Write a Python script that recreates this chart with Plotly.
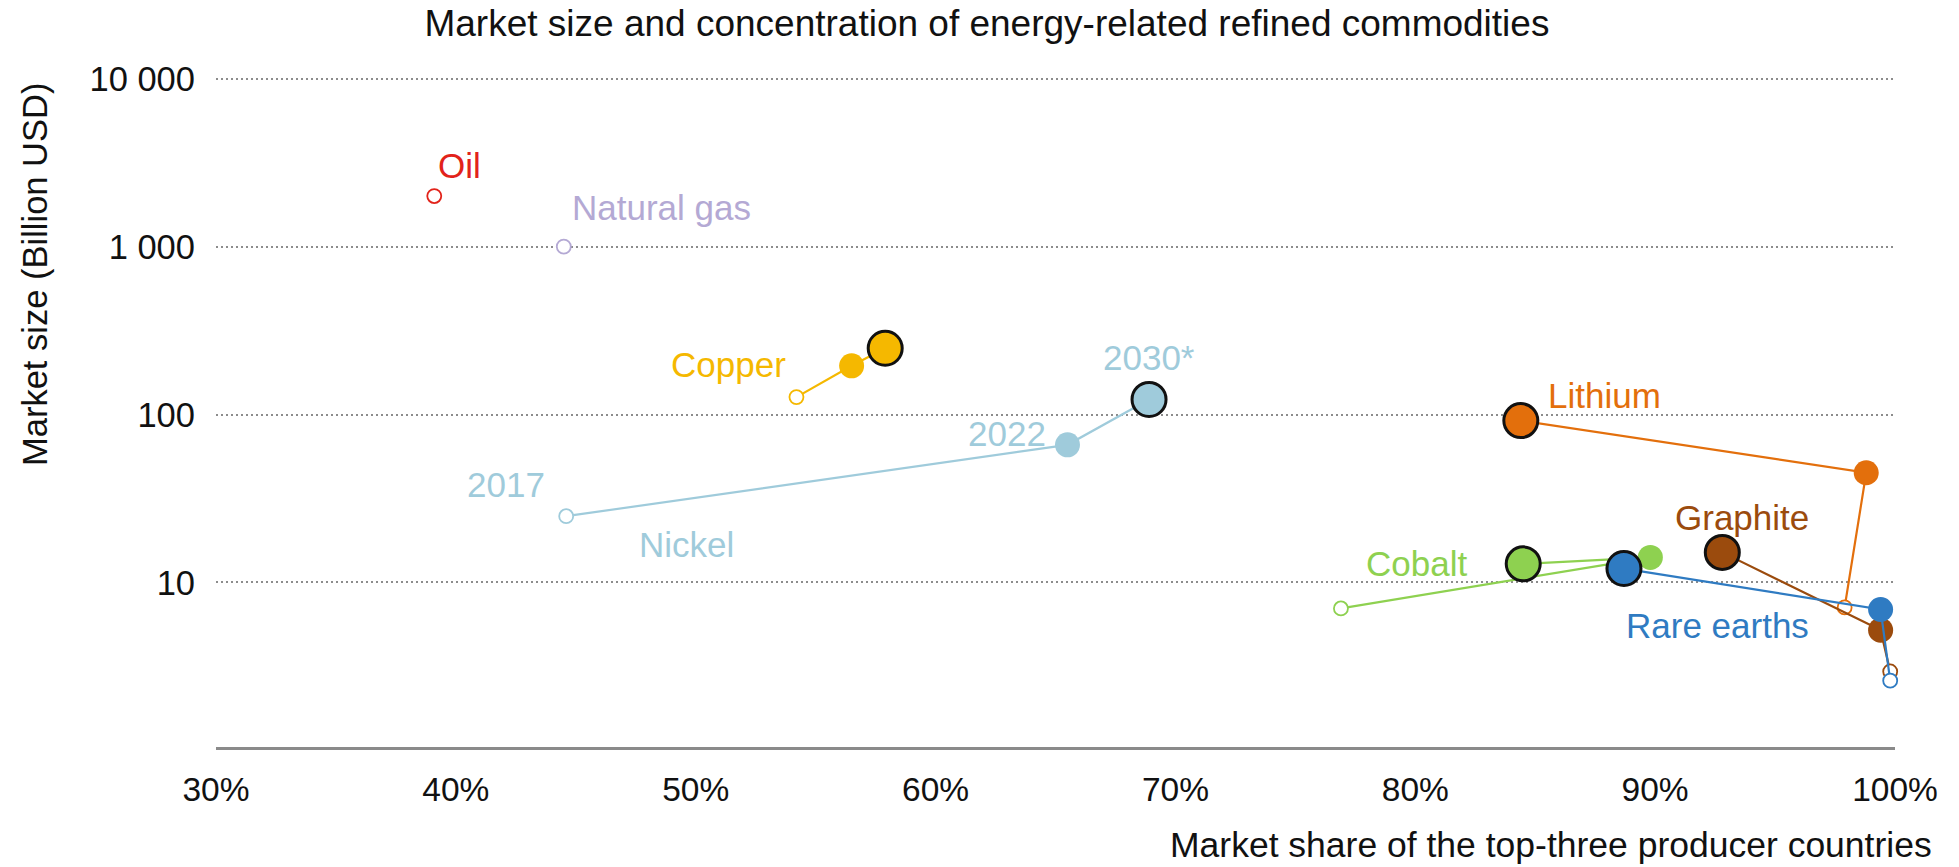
import math
import plotly.graph_objects as go

# ---------------- data ----------------
commodities = ["Oil", "Natural gas", "Copper", "Nickel", "Lithium", "Cobalt", "Rare earths", "Graphite"]
# market share of top-three producers (%) and market size (billion USD)
share_2017 = [39.1, 44.5, 54.2, 44.6, 97.9, 76.9, 99.8, 99.8]
size_2017 = [2000, 1000, 127, 24.8, 7.1, 7.0, 2.6, 2.95]
share_2022 = [None, None, 56.5, 65.5, 98.8, 89.8, 99.4, 99.4]
size_2022 = [None, None, 195, 66, 45, 14.1, 6.9, 5.2]
share_2030 = [None, None, 57.9, 68.9, 84.4, 84.5, 88.7, 92.8]
size_2030 = [None, None, 248, 123, 92, 12.9, 12.1, 15.1]

x_ticks = [30, 40, 50, 60, 70, 80, 90, 100]
x_ticktext = ["30%", "40%", "50%", "60%", "70%", "80%", "90%", "100%"]
y_ticks = [10, 100, 1000, 10000]
y_ticktext = ["10", "100", "1 000", "10 000"]

colors = {
    "Oil": "#e2231a",
    "Natural gas": "#b4a9d4",
    "Copper": "#f5b800",
    "Nickel": "#9fcbdb",
    "Lithium": "#e36f0c",
    "Cobalt": "#8ed150",
    "Rare earths": "#2f7bc2",
    "Graphite": "#9b4b0d",
}

FONT = "Liberation Sans, Arial, Helvetica, sans-serif"
FS = 35

fig = go.Figure()

draw_order = ["Oil", "Natural gas", "Copper", "Nickel", "Lithium", "Cobalt", "Graphite", "Rare earths"]
for name in draw_order:
    i = commodities.index(name)
    c = colors[name]
    xs = [share_2017[i], share_2022[i], share_2030[i]]
    ys = [size_2017[i], size_2022[i], size_2030[i]]
    px = [v for v in xs if v is not None]
    py = [v for v in ys if v is not None]
    if len(px) > 1:
        fig.add_trace(go.Scatter(x=px, y=py, mode="lines", line=dict(color=c, width=2.2),
                                 showlegend=False, hoverinfo="skip", cliponaxis=False))
    # 2017 open marker
    fig.add_trace(go.Scatter(x=[share_2017[i]], y=[size_2017[i]], mode="markers",
                             marker=dict(size=14, color="white", line=dict(color=c, width=1.8)),
                             showlegend=False, name=name + " 2017", cliponaxis=False))
    if share_2022[i] is not None:
        fig.add_trace(go.Scatter(x=[share_2022[i]], y=[size_2022[i]], mode="markers",
                                 marker=dict(size=25, color=c, line=dict(width=0)),
                                 showlegend=False, name=name + " 2022", cliponaxis=False))
    if share_2030[i] is not None:
        fig.add_trace(go.Scatter(x=[share_2030[i]], y=[size_2030[i]], mode="markers",
                                 marker=dict(size=34, color=c, line=dict(color="#111111", width=3)),
                                 showlegend=False, name=name + " 2030", cliponaxis=False))

# ---------------- labels (anchored on data points) ----------------
labels = [
    # text, commodity, year, xanchor, xshift, yshift
    ("Oil", "Oil", 2017, "left", 2, 31),
    ("Natural gas", "Natural gas", 2017, "left", 6, 39),
    ("Copper", "Copper", 2017, "right", -8, 33),
    ("2030*", "Nickel", 2030, "center", 0, 42),
    ("2022", "Nickel", 2022, "right", -19, 11),
    ("2017", "Nickel", 2017, "right", -19, 32),
    ("Nickel", "Nickel", 2017, "left", 71, -28),
    ("Lithium", "Lithium", 2030, "left", 25, 25),
    ("Graphite", "Graphite", 2030, "center", 20, 35),
    ("Cobalt", "Cobalt", 2030, "right", -54, 0),
    ("Rare earths", "Rare earths", 2030, "left", 0, -57),
]
year_x = {2017: share_2017, 2022: share_2022, 2030: share_2030}
year_y = {2017: size_2017, 2022: size_2022, 2030: size_2030}
for text, com, yr, xa, xs, ys in labels:
    i = commodities.index(com)
    fig.add_annotation(x=year_x[yr][i], y=math.log10(year_y[yr][i]), xref="x", yref="y",
                       text=text, showarrow=False, xanchor=xa, yanchor="middle",
                       xshift=xs, yshift=ys,
                       font=dict(family=FONT, size=FS, color=colors[com]))

# axis titles as annotations
fig.add_annotation(x=1.0232, y=-0.147, xref="paper", yref="paper",
                   text="Market share of the top-three producer countries",
                   showarrow=False, xanchor="right", yanchor="middle",
                   font=dict(family=FONT, size=35.5, color="#111111"))
fig.add_annotation(x=-0.1078, y=0.7045, xref="paper", yref="paper",
                   text="Market size (Billion USD)", textangle=-90,
                   showarrow=False, xanchor="center", yanchor="middle",
                   font=dict(family=FONT, size=34.5, color="#111111"))

fig.update_layout(
    width=1959, height=867,
    margin=dict(l=216, r=64, t=77, b=120),
    paper_bgcolor="white", plot_bgcolor="white",
    title=dict(text="Market size and concentration of energy-related refined commodities",
               x=0.5038, xanchor="center", y=1 - 23.5 / 867, yanchor="middle",
               font=dict(family=FONT, size=37, color="#111111")),
    font=dict(family=FONT, size=FS, color="#111111"),
    showlegend=False,
)
fig.update_xaxes(range=[30, 100], tickvals=x_ticks, ticktext=x_ticktext,
                 showgrid=False, zeroline=False, showline=True, linecolor="#8a8a8a", linewidth=3,
                 ticks="", ticklabelstandoff=11, tickfont=dict(family=FONT, size=33.5, color="#111111"))
fig.update_yaxes(type="log", range=[0.02, 4.01], tickvals=y_ticks, ticktext=y_ticktext,
                 showgrid=True, gridcolor="#8c8c8c", gridwidth=2, griddash="2px,3px",
                 zeroline=False, showline=False, ticks="", ticklabelstandoff=20,
                 tickfont=dict(family=FONT, size=34.5, color="#111111"))

fig.write_html("out.html", config={"displayModeBar": False},
               post_script="document.body.style.margin='0';")
